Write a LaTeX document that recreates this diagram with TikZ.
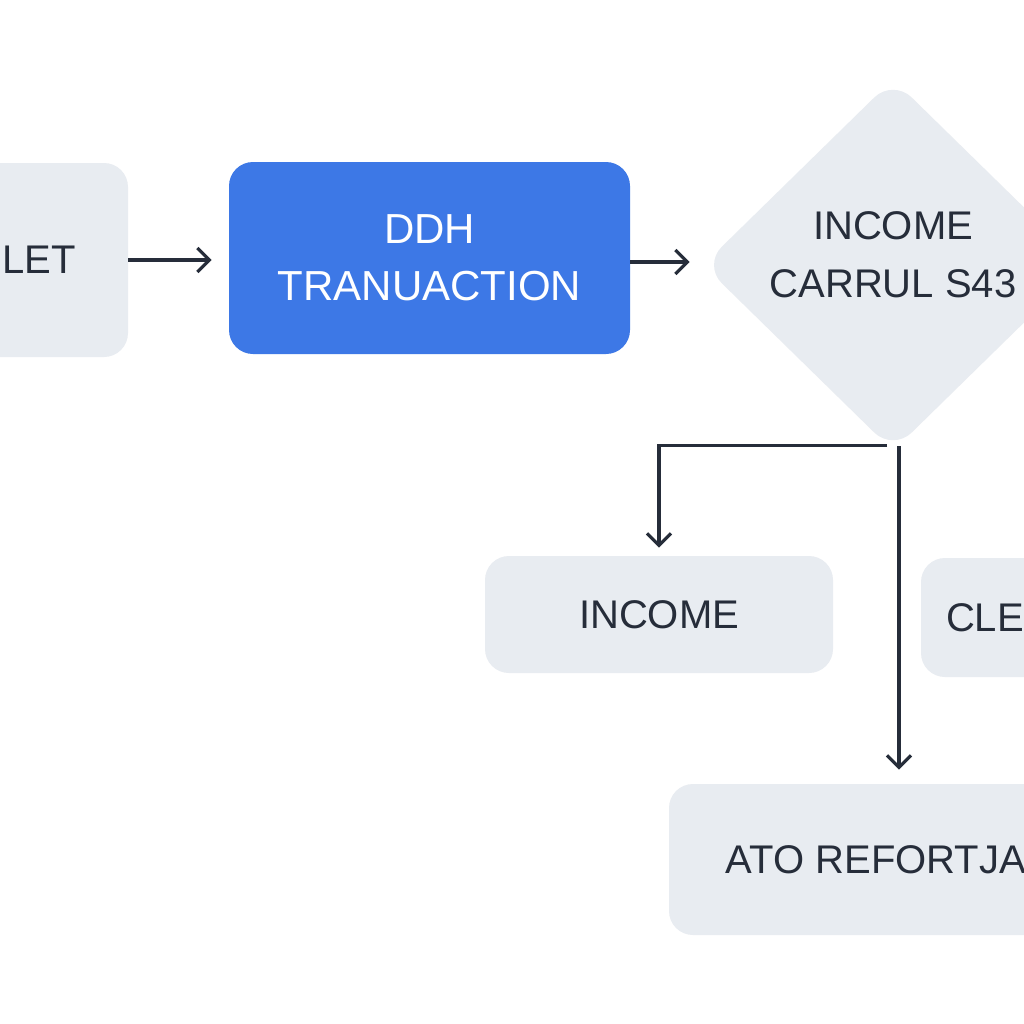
\documentclass[tikz,border=0pt]{standalone}
\usepackage{fontspec}
\setmainfont{Liberation Sans}
\usetikzlibrary{shapes.geometric,arrows.meta,calc}
\definecolor{boxfill}{HTML}{E8ECF1}
\definecolor{mainblue}{HTML}{3D78E6}
\definecolor{ink}{HTML}{262D3A}
\pgfdeclarelayer{bglayer}
\pgfsetlayers{bglayer,main}
\begin{document}
\begin{tikzpicture}[x=0.5pt,y=-0.5pt,
  box/.style={fill=boxfill, rounded corners=12pt, inner sep=0pt, text=ink,
    font=\fontsize{20}{28}\selectfont, align=center},
  bluebox/.style={fill=mainblue, rounded corners=12pt, inner sep=0pt, text=white,
    font=\fontsize{21}{28.5}\selectfont, align=center},
  decision/.style={diamond, fill=boxfill, rounded corners=13pt, inner sep=0pt,
    minimum width=190pt, minimum height=186pt},
  lbl/.style={text=ink, font=\fontsize{20}{29}\selectfont, align=center, inner sep=0pt},
  conn/.style={draw=ink, line width=1.6pt, -{Straight Barb[length=6pt,width=12pt,line width=1.6pt]}}
]
\useasboundingbox (0,0) rectangle (1024,1024);
\clip (0,0) rectangle (1024,1024);

\node[box, minimum width=89pt, minimum height=97pt] (let) at (39,260) {LET};
\node[bluebox, minimum width=200.5pt, minimum height=96pt] (tx) at (429.5,258) {DDH\\TRANUACTION};
\node[decision] (dia) at (893,265) {};
\node[lbl] (dtext) at (893,255) {INCOME\\CARRUL S43};
\node[box, minimum width=174pt, minimum height=58.5pt] (inc) at (659,614.5) {INCOME};
\node[box, minimum width=64pt, minimum height=59.5pt] (cle) at (985,617.5) {CLE};
\node[box, minimum width=207pt, minimum height=75.5pt] (ato) at (876,859.5) {ATO REFORTJA};

\coordinate (br) at (899,446);

\draw[conn, shorten >=8.5pt] (let.east) -- (let.east -| tx.west);
\draw[conn, shorten >=6.5pt] (tx.east |- 0,262) -- (dia.west |- 0,262);

\begin{pgfonlayer}{bglayer}
\fill[white] (0,0) rectangle (1024,1024);
\draw[conn, shorten >=4pt] ($(dia.south)+(-6,-6)$) -| (inc.north);
\draw[conn, shorten >=7pt] (br) -- (br |- ato.north);
\end{pgfonlayer}
\end{tikzpicture}
\end{document}
